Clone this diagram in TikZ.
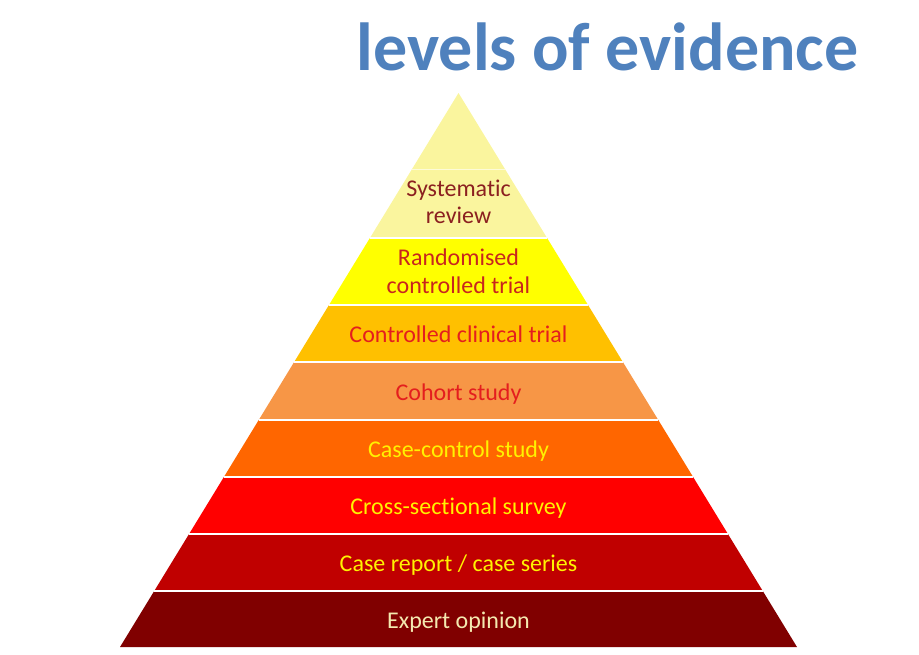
\documentclass[tikz,border=0pt]{standalone}
\usepackage{fontspec}
\setmainfont{Carlito}[Ligatures=NoCommon]
\usepackage{xcolor}
\usetikzlibrary{positioning}

\definecolor{lvlpale}{HTML}{FAF59E}
\definecolor{lvlyellow}{HTML}{FFFF00}
\definecolor{lvlgold}{HTML}{FFC000}
\definecolor{lvlpeach}{HTML}{F79646}
\definecolor{lvlorange}{HTML}{FF6600}
\definecolor{lvlred}{HTML}{FF0000}
\definecolor{lvldark}{HTML}{C00000}
\definecolor{lvlmaroon}{HTML}{800000}
\definecolor{txtbrown}{HTML}{8B2020}
\definecolor{txtcrimson}{HTML}{C8261E}
\definecolor{txtred}{HTML}{E41E1E}
\definecolor{txtyellow}{HTML}{FFF200}
\definecolor{txtcream}{HTML}{F4E9B0}
\definecolor{titleblue}{HTML}{4F81BD}

\tikzset{
  lvllabel/.style={anchor=base, align=center, font=\fontsize{18}{21}\selectfont},
  sepline/.style={white, line width=1.2pt}
}

\begin{document}
\begin{tikzpicture}[x=0.75pt,y=-0.75pt]
\useasboundingbox (0,0) rectangle (919,654);
% pyramid layers: top / bottom / fill
\foreach \top/\bot/\col in {93/169/lvlpale,169/238/lvlpale,238/305/lvlyellow,305/362/lvlgold,
    362/420/lvlpeach,420/477/lvlorange,477/534/lvlred,534/591/lvldark,591/647/lvlmaroon} {
  \pgfmathsetmacro{\wt}{(\top-93)/554*338.5}
  \pgfmathsetmacro{\wb}{(\bot-93)/554*338.5}
  \fill[\col] (458.5-\wt,\top) -- (458.5+\wt,\top) -- (458.5+\wb,\bot) -- (458.5-\wb,\bot) -- cycle;
}
% white separators (the top one barely shows)
\draw[sepline, line width=0.7pt, opacity=0.6] ({458.5-76/554*338.5},169) -- ({458.5+76/554*338.5},169);
\foreach \y in {238,305,362,420,477,534,591} {
  \pgfmathsetmacro{\w}{(\y-93)/554*338.5}
  \draw[sepline] (458.5-\w,\y) -- (458.5+\w,\y);
}
% base anchor of two-line labels = last line
\node[lvllabel, text=txtbrown, font=\fontsize{18}{20}\selectfont] (sysrev) at (458.5,223) {Systematic\\review};
\node[lvllabel, text=txtcrimson] (rct) at (458.5,293) {Randomised\\controlled trial};
\node[lvllabel, text=txtred] (cct) at (458.5,342.5) {Controlled clinical trial};
\node[lvllabel, text=txtred] (cohort) at (458.5,400) {Cohort study};
\node[lvllabel, text=txtyellow] (casectl) at (458.5,457.5) {Case-control study};
\node[lvllabel, text=txtyellow] (crosssec) at (458.5,514.5) {Cross-sectional survey};
\node[lvllabel, text=txtyellow] (caserep) at (458.5,571.5) {Case report / case series};
\node[lvllabel, text=txtcream] (expert) at (458.5,628) {Expert opinion};
\node[anchor=base, text=titleblue, font=\fontsize{51}{60}\selectfont\bfseries] (title) at (607.5,70) {levels of evidence};
\end{tikzpicture}
\end{document}
